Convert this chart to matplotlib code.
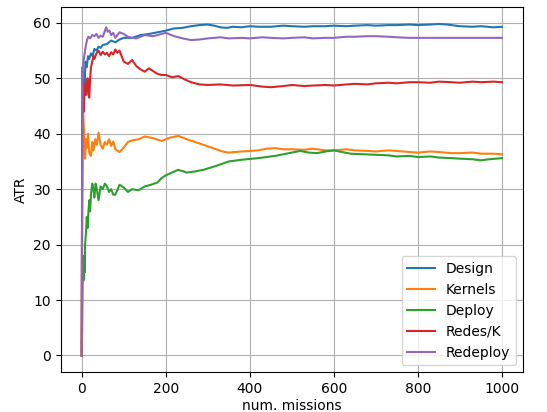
import matplotlib
matplotlib.use("Agg")
import matplotlib.pyplot as plt

design_x = [0, 1, 2, 3, 4, 5, 7, 9, 12, 15, 18, 22, 26, 30, 35, 40, 45, 50, 60, 70, 80, 90, 100, 120, 140, 160, 180, 200, 220, 240, 260, 280, 300, 315, 330, 345, 360, 380, 400, 420, 450, 480, 500, 530, 550, 580, 600, 630, 650, 680, 700, 730, 750, 780, 800, 830, 850, 870, 900, 930, 950, 980, 1000]
design_y = [0, 30, 44, 50, 47, 51, 49, 53, 52, 54, 53.5, 54.5, 54, 55.3, 55, 55.7, 55.5, 56, 56.2, 56.8, 56.5, 57, 57.3, 57.3, 57.8, 58, 58.3, 58.6, 59, 59.1, 59.4, 59.6, 59.7, 59.5, 59.2, 59.1, 59.3, 59.2, 59.4, 59.3, 59.3, 59.5, 59.4, 59.3, 59.4, 59.4, 59.5, 59.4, 59.5, 59.6, 59.5, 59.6, 59.6, 59.7, 59.6, 59.7, 59.8, 59.7, 59.4, 59.3, 59.4, 59.2, 59.3]

kernels_x = [0, 1, 2, 3, 4, 5, 6, 8, 10, 12, 15, 18, 22, 25, 28, 32, 36, 40, 45, 50, 55, 60, 65, 70, 75, 80, 90, 100, 110, 120, 135, 150, 170, 190, 210, 230, 250, 270, 290, 305, 320, 335, 350, 380, 420, 440, 460, 480, 500, 530, 550, 580, 600, 630, 650, 680, 700, 730, 750, 780, 800, 830, 850, 880, 900, 930, 950, 980, 1000]
kernels_y = [0, 30, 40, 45, 43, 41, 39, 35.5, 39, 37.5, 40, 36.5, 36, 38.5, 37, 39, 38, 40.2, 38, 37.3, 38.5, 38, 39, 37.8, 38.6, 37.2, 36.7, 37.5, 38.5, 38.8, 39, 39.5, 39.2, 38.7, 39.3, 39.6, 39, 38.5, 38, 37.6, 37.2, 36.8, 36.6, 36.8, 37, 37.3, 37.4, 37.2, 37.2, 37.1, 37.3, 37, 37, 37.2, 37, 36.9, 36.8, 37, 36.9, 36.7, 36.6, 36.8, 36.7, 36.5, 36.5, 36.6, 36.4, 36.4, 36.3]

deploy_x = [0, 1, 2, 3, 4, 5, 6, 7, 8, 10, 12, 14, 16, 18, 20, 22, 25, 28, 30, 33, 36, 40, 45, 50, 55, 60, 65, 70, 75, 80, 90, 100, 110, 120, 135, 150, 165, 180, 190, 200, 215, 230, 250, 270, 290, 320, 350, 380, 420, 460, 500, 520, 540, 560, 580, 600, 620, 640, 670, 700, 730, 750, 780, 800, 830, 850, 880, 900, 930, 950, 970, 1000]
deploy_y = [0, 5, 12, 17, 13.5, 15, 18, 15, 20, 22, 25, 23, 26, 28, 26, 29, 31, 30, 28.5, 31, 30, 28, 30.5, 30, 31, 30.5, 29.5, 30, 29, 29, 30.8, 30.3, 29.5, 30, 29.8, 30.5, 30.8, 31.2, 32, 32.5, 33, 33.5, 33, 33.2, 33.5, 34.2, 35, 35.3, 35.6, 36, 36.6, 36.9, 36.6, 36.5, 36.8, 37, 36.7, 36.4, 36.3, 36.2, 36.1, 35.9, 36, 35.8, 35.9, 35.7, 35.6, 35.5, 35.4, 35.2, 35.4, 35.6]

redes_x = [0, 1, 2, 3, 4, 5, 6, 8, 10, 12, 14, 16, 18, 20, 22, 25, 28, 30, 35, 40, 45, 50, 55, 60, 65, 70, 75, 80, 85, 90, 95, 100, 110, 120, 130, 140, 150, 160, 170, 180, 190, 200, 215, 230, 245, 260, 280, 300, 330, 360, 400, 430, 450, 480, 500, 530, 550, 580, 600, 630, 650, 680, 700, 730, 750, 780, 800, 830, 850, 880, 900, 930, 950, 980, 1000]
redes_y = [0, 40, 52, 48, 45, 44, 47, 49, 47, 48.5, 50, 47, 46.5, 50, 52, 53, 54, 53.5, 54.5, 55, 54.2, 54.8, 54.3, 54.6, 54, 54.7, 54.3, 55.2, 54.6, 55, 54, 53, 52.6, 53.3, 52.2, 51.6, 51.2, 51.8, 51.3, 50.8, 50.6, 50.6, 50.2, 50.4, 49.8, 49.3, 48.9, 48.8, 48.9, 48.7, 48.8, 48.5, 48.4, 48.6, 48.8, 48.6, 48.7, 48.8, 48.7, 48.9, 49, 48.9, 49.1, 49.2, 49.1, 49.3, 49.3, 49.2, 49.4, 49.3, 49.2, 49.4, 49.3, 49.4, 49.3]

redeploy_x = [0, 1, 2, 3, 4, 6, 8, 10, 13, 16, 20, 25, 30, 35, 40, 45, 50, 55, 58, 62, 66, 70, 75, 80, 85, 90, 100, 110, 120, 130, 140, 150, 170, 190, 200, 210, 220, 240, 260, 280, 300, 330, 350, 380, 400, 430, 450, 480, 500, 530, 550, 580, 600, 630, 650, 680, 700, 730, 750, 780, 800, 850, 900, 950, 1000]
redeploy_y = [0, 30, 52, 50, 53, 54, 55, 56, 57, 57.5, 57.2, 57.8, 57.6, 58, 57.3, 57.7, 57.5, 58.5, 59.2, 58.4, 58.6, 57.8, 58.2, 57.3, 57.8, 58.3, 58, 57.5, 57.3, 57.2, 57.5, 57.8, 57.6, 58, 58.2, 57.9, 57.6, 57.2, 56.9, 57, 57.2, 57.4, 57.2, 57.3, 57.2, 57.4, 57.3, 57.2, 57.3, 57.4, 57.2, 57.3, 57.3, 57.5, 57.5, 57.6, 57.6, 57.5, 57.4, 57.3, 57.3, 57.3, 57.3, 57.3, 57.3]

fig = plt.figure(figsize=(5.47, 4.12), dpi=100)
ax = fig.add_axes([0.111, 0.097, 0.845, 0.885])
ax.plot(design_x, design_y, label="Design", color="#1f77b4")
ax.plot(kernels_x, kernels_y, label="Kernels", color="#ff7f0e")
ax.plot(deploy_x, deploy_y, label="Deploy", color="#2ca02c")
ax.plot(redes_x, redes_y, label="Redes/K", color="#d62728")
ax.plot(redeploy_x, redeploy_y, label="Redeploy", color="#9467bd")
ax.grid(True)
ax.set_xlabel("num. missions", labelpad=2)
ax.set_ylabel("ATR")
ax.set_xticks([0, 200, 400, 600, 800, 1000])
ax.set_yticks([0, 10, 20, 30, 40, 50, 60])
ax.legend(loc="lower right")
fig.savefig("out.png", dpi=100)
